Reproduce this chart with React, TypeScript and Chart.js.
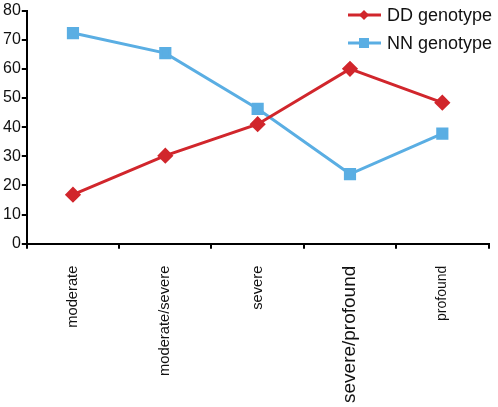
import React, { useEffect, useRef } from "react";
import { Chart, registerables } from "chart.js";

Chart.register(...registerables);

const categories = ["moderate", "moderate/severe", "severe", "severe/profound", "profound"];
const ddValues = [16.8, 30.2, 41, 60, 48.4];
const nnValues = [72.3, 65.4, 46.3, 23.9, 37.8];
const yTicks = [0, 10, 20, 30, 40, 50, 60, 70, 80];
const seriesNames = ["DD genotype", "NN genotype"];
const RED = "#D1262C";
const BLUE = "#5AAEE3";
const labelSizes = [14.7, 14.7, 14.7, 19, 14];

const legendPlugin = {
  id: "customLegend",
  afterDraw(chart: any) {
    const ctx = chart.ctx;
    const items = [
      { name: seriesNames[0], color: RED, style: "diamond", y: 15 },
      { name: seriesNames[1], color: BLUE, style: "square", y: 43 },
    ];
    ctx.save();
    for (const it of items) {
      ctx.strokeStyle = it.color;
      ctx.lineWidth = 3;
      ctx.beginPath();
      ctx.moveTo(348, it.y);
      ctx.lineTo(381, it.y);
      ctx.stroke();
      ctx.fillStyle = it.color;
      const cx = 364;
      if (it.style === "diamond") {
        ctx.beginPath();
        ctx.moveTo(cx - 5, it.y);
        ctx.lineTo(cx, it.y - 5);
        ctx.lineTo(cx + 5, it.y);
        ctx.lineTo(cx, it.y + 5);
        ctx.closePath();
        ctx.fill();
      } else {
        ctx.fillRect(cx - 5, it.y - 5, 10, 10);
      }
      ctx.fillStyle = "#111";
      ctx.font = "18px 'Liberation Sans', Arial, sans-serif";
      ctx.textBaseline = "middle";
      ctx.textAlign = "left";
      ctx.fillText(it.name, 387, it.y + 1);
    }
    ctx.restore();
  },
};

export default function App() {
  const ref = useRef<HTMLCanvasElement>(null);
  useEffect(() => {
    document.body.style.margin = "0";
    const chart = new Chart(ref.current!, {
      type: "line",
      data: {
        labels: categories,
        datasets: [
          {
            label: seriesNames[0],
            data: ddValues,
            borderColor: RED,
            backgroundColor: RED,
            borderWidth: 3,
            pointStyle: "rectRot",
            pointRadius: 6,
            pointHoverRadius: 6,
            tension: 0,
          },
          {
            label: seriesNames[1],
            data: nnValues,
            borderColor: BLUE,
            backgroundColor: BLUE,
            borderWidth: 3,
            pointStyle: "rect",
            pointRadius: 6.5,
            pointHoverRadius: 6.5,
            tension: 0,
          },
        ],
      },
      options: {
        responsive: false,
        animation: false,
        layout: { padding: { top: 8, right: 9, bottom: -13, left: 2 } },
        plugins: { legend: { display: false }, tooltip: { enabled: false } },
        scales: {
          x: {
            type: "category",
            offset: true,
            grid: {
              offset: true,
              drawOnChartArea: false,
              drawTicks: true,
              tickLength: 5,
              color: "#000",
              lineWidth: 2,
            },
            border: { color: "#000", width: 2 },
            ticks: {
              color: "#111",
              minRotation: 90,
              maxRotation: 90,
              padding: 17,
              font: (c: any) => ({
                family: "'Liberation Sans', Arial, sans-serif",
                size: labelSizes[c.index] ?? 14,
              }),
            },
          },
          y: {
            min: 0,
            max: 80,
            afterBuildTicks: (axis: any) => {
              axis.ticks = yTicks.map((v) => ({ value: v }));
            },
            grid: {
              drawOnChartArea: false,
              drawTicks: true,
              tickLength: 5,
              color: "#000",
              lineWidth: 2,
            },
            border: { color: "#000", width: 2 },
            ticks: {
              color: "#111",
              padding: 1,
              font: { family: "'Liberation Sans Narrow', 'Liberation Sans', Arial, sans-serif", size: 16 },
            },
          },
        },
      },
      plugins: [legendPlugin],
    });
    return () => chart.destroy();
  }, []);
  return <canvas ref={ref} width={498} height={407} style={{ display: "block" }} />;
}
